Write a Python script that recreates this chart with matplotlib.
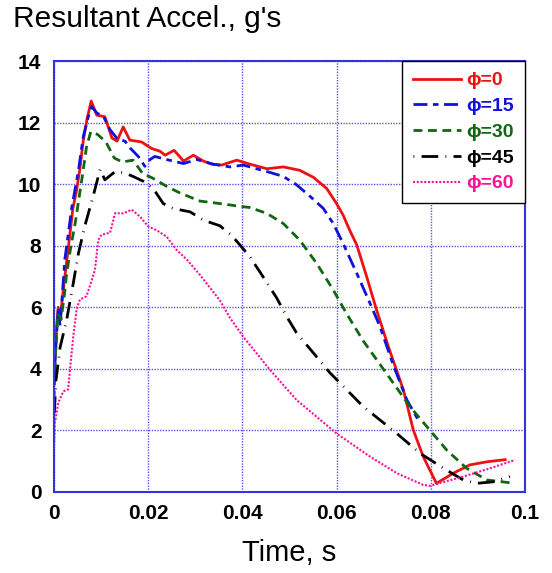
import matplotlib
matplotlib.use("Agg")
import matplotlib.pyplot as plt

t0 = [0, 0.0005, 0.0009, 0.0013, 0.002, 0.0027, 0.0034, 0.004, 0.0048, 0.0055, 0.0062, 0.007,
      0.0079, 0.0091, 0.0108, 0.0123, 0.0134, 0.0147, 0.0161, 0.0186, 0.0207, 0.0225, 0.0236,
      0.0255, 0.0275, 0.0296, 0.0317, 0.0335, 0.0356, 0.0388, 0.0416, 0.0452, 0.0487, 0.0522,
      0.0551, 0.0579, 0.06, 0.0614, 0.0628, 0.0643, 0.0664, 0.0685, 0.071, 0.0742, 0.0763,
      0.0784, 0.0812, 0.0848, 0.0883, 0.0919, 0.0958]
a0 = [3.8, 5.2, 6.0, 5.6, 6.6, 7.5, 8.4, 9.2, 9.8, 10.5, 11.4, 12.1,
      12.7, 12.24, 12.19, 11.5, 11.4, 11.86, 11.43, 11.37, 11.16, 11.07, 10.94,
      11.1, 10.75, 10.94, 10.75, 10.65, 10.62, 10.78, 10.65, 10.5, 10.56, 10.45,
      10.22, 9.86, 9.37, 8.99, 8.5, 8.02, 6.99, 5.91, 4.72, 3.31, 2.01,
      1.15, 0.28, 0.61, 0.88, 0.98, 1.05]

t15 = [0, 0.0005, 0.0009, 0.0013, 0.0023, 0.0038, 0.0052, 0.0062, 0.0073, 0.008, 0.0091, 0.0105,
       0.0119, 0.0133, 0.0151, 0.016, 0.0179, 0.0193, 0.0204, 0.0214, 0.0239, 0.0275, 0.0303,
       0.0338, 0.0374, 0.0402, 0.043, 0.0459, 0.0487, 0.0515, 0.0544, 0.0572, 0.0593, 0.0614,
       0.0643, 0.0671, 0.0692, 0.0721, 0.0749, 0.0777]
a15 = [3.6, 5.0, 5.9, 5.4, 7.55, 9.26, 10.45, 11.53, 12.2, 12.52, 12.31, 12.2,
       11.77, 11.5, 11.39, 11.2, 10.9, 10.58, 10.8, 10.9, 10.8, 10.67, 10.8,
       10.65, 10.56, 10.62, 10.5, 10.38, 10.25, 9.98, 9.6, 9.21, 8.72, 8.07,
       7.1, 6.13, 5.38, 4.1, 3.0, 2.24]

t30 = [0, 0.0004, 0.0008, 0.0015, 0.0022, 0.0027, 0.0035, 0.0045, 0.0059, 0.0069, 0.0078, 0.0092,
       0.011, 0.0128, 0.0145, 0.0168, 0.0188, 0.0209, 0.0239, 0.0268, 0.031, 0.0352, 0.0385,
       0.0416, 0.0452, 0.0487, 0.0522, 0.0558, 0.0593, 0.0621, 0.0657, 0.0706, 0.0756, 0.0798,
       0.0834, 0.0876, 0.0919, 0.0968]
a30 = [3.0, 4.8, 5.8, 5.6, 6.4, 7.1, 7.9, 8.73, 10.14, 11.2, 11.7, 11.62,
       11.38, 10.85, 10.72, 10.78, 10.35, 10.2, 9.93, 9.71, 9.45, 9.37, 9.3,
       9.24, 9.05, 8.72, 8.18, 7.42, 6.56, 5.8, 4.9, 3.85, 2.77, 2.01,
       1.36, 0.77, 0.39, 0.3]

t45 = [0, 0.0004, 0.0013, 0.0027, 0.004, 0.0052, 0.0066, 0.0083, 0.0098, 0.0108, 0.013, 0.0151,
       0.0168, 0.019, 0.0211, 0.0232, 0.0253, 0.0289, 0.0317, 0.0352, 0.0377, 0.0395, 0.0416,
       0.0444, 0.0473, 0.0494, 0.0515, 0.0586, 0.0657, 0.0728, 0.0777, 0.0827, 0.0869, 0.0897,
       0.0933, 0.0968]
a45 = [2.3, 3.6, 4.7, 5.6, 6.7, 7.76, 8.67, 9.6, 10.48, 10.14, 10.41, 10.36,
       10.25, 10.09, 9.85, 9.37, 9.21, 9.1, 8.83, 8.65, 8.34, 8.02, 7.64,
       6.99, 6.3, 5.7, 5.17, 3.87, 2.77, 1.9, 1.26, 0.77, 0.39, 0.28,
       0.33, 0.5]

t60 = [0, 0.0002, 0.0009, 0.002, 0.003, 0.0034, 0.0041, 0.0048, 0.0055, 0.0069, 0.0076, 0.0087,
       0.0094, 0.0101, 0.0119, 0.013, 0.0147, 0.0165, 0.0183, 0.02, 0.0218, 0.0239, 0.026,
       0.0282, 0.031, 0.0352, 0.0374, 0.0402, 0.0459, 0.0515, 0.06, 0.0671, 0.0728, 0.0784,
       0.0798, 0.081, 0.0869, 0.0926, 0.0979]
a60 = [1.49, 2.25, 2.9, 3.27, 3.33, 3.98, 5.06, 5.93, 6.25, 6.36, 6.68, 7.22,
       8.18, 8.36, 8.42, 9.06, 9.05, 9.17, 8.94, 8.63, 8.5, 8.3, 7.87,
       7.55, 7.05, 6.23, 5.65, 5.04, 3.96, 2.99, 1.9, 1.15, 0.61, 0.23,
       0.2, 0.25, 0.5, 0.77, 1.04]

labels = ["\u03d5=0", "\u03d5=15", "\u03d5=30", "\u03d5=45", "\u03d5=60"]
xticks = [0, 0.02, 0.04, 0.06, 0.08, 0.1]
xtick_labels = ["0", "0.02", "0.04", "0.06", "0.08", "0.1"]
yticks = [0, 2, 4, 6, 8, 10, 12, 14]

plt.rcParams['font.family'] = ['Liberation Sans', 'DejaVu Sans']

fig = plt.figure(figsize=(5.52, 5.73), dpi=100)
ax = fig.add_axes([0.0978, 0.1414, 0.8532, 0.7521])

blue_axis = '#3333dd'
ax.grid(True, color='#5555ee', linestyle=(0, (1, 1)), linewidth=1.0)
ax.set_axisbelow(True)

ax.plot(t0, a0, color='#ee1111', lw=2.0, label=labels[0])
ax.plot(t15, a15, color='#1111dd', lw=2.0, linestyle=(0, (5, 2, 2, 2)), label=labels[1])
ax.plot(t30, a30, color='#116611', lw=2.0, linestyle=(0, (3.2, 2)), label=labels[2])
ax.plot(t45, a45, color='black', lw=2.0, linestyle=(0, (0.3, 2.6, 6, 2.6)), label=labels[3])
ax.plot(t60, a60, color='#ff1199', lw=1.5, linestyle=(0, (1, 0.8)), label=labels[4])

ax.set_xlim(0, 0.1)
ax.set_ylim(0, 14)
ax.set_xticks(xticks)
ax.set_xticklabels(xtick_labels)
ax.set_yticks(yticks)
ax.tick_params(length=0, pad=9, labelsize=15)
for lab in ax.get_xticklabels() + ax.get_yticklabels():
    lab.set_fontweight('bold')
for s in ax.spines.values():
    s.set_color(blue_axis)
    s.set_linewidth(1.5)

ax.set_xlabel("Time, s", fontsize=21, labelpad=11)
fig.text(0.024, 1 - 27 / 573, "Resultant Accel., g's", fontsize=21.5, ha='left', va='baseline')

leg = ax.legend(loc='upper right', bbox_to_anchor=(1.0, 1.0), borderaxespad=0,
                fancybox=False, framealpha=1, edgecolor='black',
                handlelength=2.45, handletextpad=0.3, labelspacing=0.42,
                borderpad=0.55, prop={'weight': 'bold', 'size': 14})
leg.get_frame().set_linewidth(1.0)
for txt, line in zip(leg.get_texts(), leg.get_lines()):
    txt.set_color(line.get_color())

fig.savefig("out.png", dpi=100)
